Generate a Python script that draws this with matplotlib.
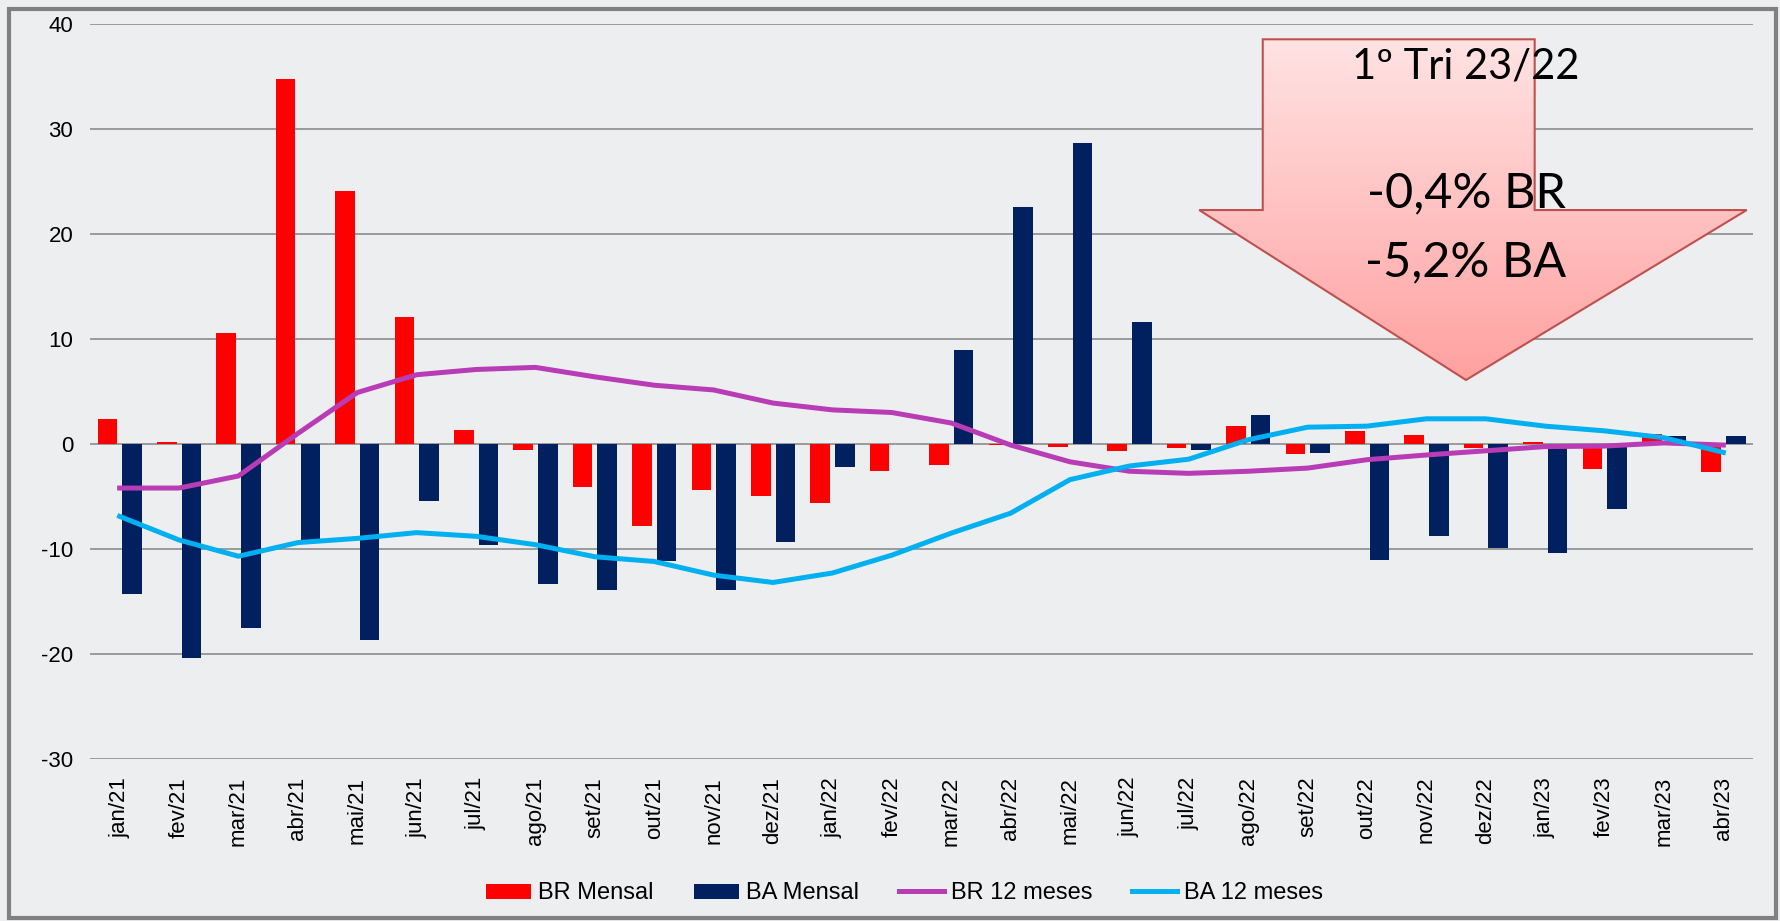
import matplotlib
matplotlib.use("Agg")
import matplotlib.pyplot as plt
import numpy as np
from matplotlib.patches import Polygon, Rectangle

plt.rcParams['font.family'] = ['Liberation Sans', 'DejaVu Sans']
plt.rcParams['axes.unicode_minus'] = False

meses = ['jan/21', 'fev/21', 'mar/21', 'abr/21', 'mai/21', 'jun/21', 'jul/21', 'ago/21',
         'set/21', 'out/21', 'nov/21', 'dez/21', 'jan/22', 'fev/22', 'mar/22', 'abr/22',
         'mai/22', 'jun/22', 'jul/22', 'ago/22', 'set/22', 'out/22', 'nov/22', 'dez/22',
         'jan/23', 'fev/23', 'mar/23', 'abr/23']

br_mensal = [2.4, 0.2, 10.6, 34.8, 24.1, 12.1, 1.3, -0.6, -4.1, -7.8, -4.4, -5.0,
             -5.6, -2.6, -2.0, -0.1, -0.25, -0.65, -0.4, 1.7, -1.0, 1.2, 0.85, -0.35,
             0.2, -2.4, 0.95, -2.7]
ba_mensal = [-14.3, -20.4, -17.5, -9.2, -18.7, -5.4, -9.6, -13.3, -13.9, -11.2, -13.9, -9.3,
             -2.2, 0.0, 9.0, 22.6, 28.7, 11.6, -0.6, 2.8, -0.9, -11.1, -8.8, -9.9,
             -10.4, -6.2, 0.75, 0.75]
br_12m = [-4.2, -4.2, -3.05, 1.0, 4.9, 6.6, 7.1, 7.3, 6.4, 5.6, 5.15, 3.9,
          3.25, 3.0, 2.0, -0.1, -1.7, -2.6, -2.8, -2.6, -2.3, -1.5, -1.05, -0.65,
          -0.25, -0.2, 0.1, -0.1]
ba_12m = [-6.9, -9.15, -10.7, -9.4, -9.0, -8.45, -8.8, -9.6, -10.75, -11.2, -12.5, -13.2,
          -12.3, -10.6, -8.5, -6.6, -3.4, -2.1, -1.45, 0.4, 1.6, 1.7, 2.4, 2.4,
          1.7, 1.25, 0.6, -0.8]

bg = '#EDEEF0'
fig = plt.figure(figsize=(17.81, 9.21), dpi=100, facecolor=bg)
ax = fig.add_axes([0.0505, 0.1762, 0.9338, 0.7974])
ax.set_facecolor('none')

x = np.arange(len(meses))
w = 0.33
b1 = ax.bar(x - 0.205, br_mensal, w, color='#FF0000', label='BR Mensal', zorder=3)
b2 = ax.bar(x + 0.21, ba_mensal, w, color='#002060', label='BA Mensal', zorder=3)
l1, = ax.plot(x, br_12m, color='#B83CB5', lw=3.6, label='BR 12 meses', zorder=4)
l2, = ax.plot(x, ba_12m, color='#00B0F0', lw=3.6, label='BA 12 meses', zorder=4)

ax.set_xlim(-0.5, len(meses) - 0.5)
ax.set_ylim(-30, 40)
ax.set_yticks(range(-30, 41, 10))
ax.yaxis.grid(True, color='#8C8C8C', lw=1.2, zorder=0)
ax.set_axisbelow(True)
for s in ax.spines.values():
    s.set_visible(False)
ax.tick_params(length=0, labelsize=16)
ax.tick_params(axis='y', pad=12)
ax.tick_params(axis='x', pad=13)
ax.set_xticks(x)
ax.set_xticklabels(meses, rotation=90)

fig.legend([b1, b2, l1, l2], ['BR Mensal', 'BA Mensal', 'BR 12 meses', 'BA 12 meses'],
           loc='center', bbox_to_anchor=(0.508, 0.030), ncol=4, frameon=False,
           fontsize=17, handlelength=1.9, handleheight=0.6, columnspacing=1.7,
           handletextpad=0.3)

# seta de destaque com degrade
arrow = Polygon([(0.7052, 0.9796), (0.8687, 0.9796), (0.8687, 0.7471), (0.9962, 0.7471),
                 (0.8274, 0.5157), (0.6670, 0.7471), (0.7052, 0.7471)],
                closed=True, transform=ax.transAxes, facecolor='none',
                edgecolor='#C0504D', lw=1.5, zorder=6)
ax.add_patch(arrow)
grad = np.linspace(0, 1, 256).reshape(-1, 1)
top = np.array([1.0, 0.89, 0.89])
bottom = np.array([1.0, 0.63, 0.63])
img = top + (bottom - top) * grad[..., None]
im = ax.imshow(img, extent=(0.667, 0.9962, 0.5157, 0.9796), transform=ax.transAxes,
               aspect='auto', origin='upper', zorder=5)
im.set_clip_path(arrow)

tf = ['Lato', 'DejaVu Sans']
ax.text(0.8274, 0.943, '1º Tri 23/22', transform=ax.transAxes, ha='center', va='center',
        fontsize=30, family=tf, zorder=7)
ax.text(0.8274, 0.770, '-0,4% BR', transform=ax.transAxes, ha='center', va='center',
        fontsize=35, family=tf, zorder=7)
ax.text(0.8274, 0.676, '-5,2% BA', transform=ax.transAxes, ha='center', va='center',
        fontsize=35, family=tf, zorder=7)

# moldura
fig.patches.append(Rectangle((9 / 1781, 3 / 921), 1767 / 1781, 909 / 921,
                             transform=fig.transFigure, fill=False,
                             edgecolor='#808080', lw=3))

fig.savefig('out.png', dpi=100, facecolor=bg)
